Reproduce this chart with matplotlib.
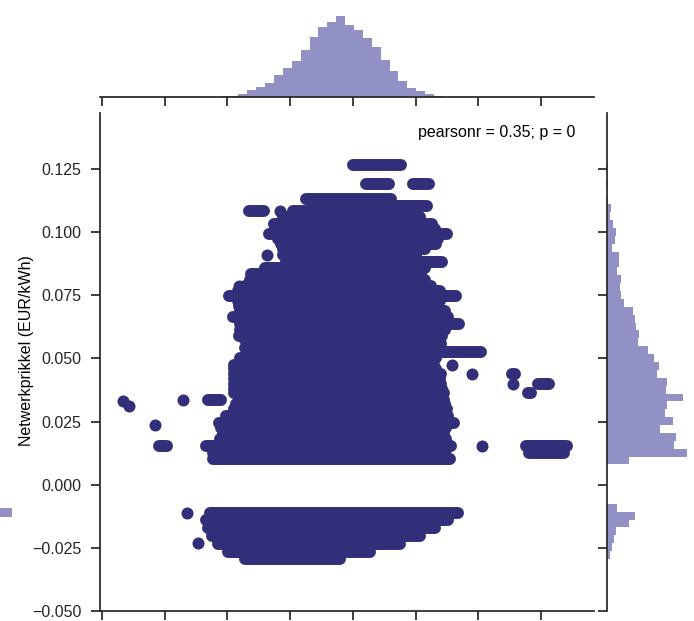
import matplotlib
matplotlib.use("Agg")
import matplotlib.pyplot as plt
import numpy as np
from matplotlib.patches import Rectangle

plt.rcParams["font.family"] = ["Liberation Sans", "DejaVu Sans"]

DOT = "#312e7a"
HIST = "#9191c6"
INK = "#262626"

# dense runs of points on one price level: y, first x, last x
row_y = [0.1266, 0.1191, 0.1191, 0.1131, 0.1104, 0.1084, 0.1084, 0.1060, 0.1032, 0.1012,
         0.0993, 0.0973, 0.0953, 0.0933, 0.0909, 0.0881, 0.0858, 0.0834, 0.0810, 0.0786,
         0.0766, 0.0746, 0.0727, 0.0707, 0.0687, 0.0663, 0.0635, 0.0611, 0.0588, 0.0572,
         0.0556, 0.0540, 0.0524, 0.0500, 0.0476, 0.0457, 0.0437, 0.0417, 0.0397, 0.0381,
         0.0365, 0.0337, 0.0318, 0.0298, 0.0274, 0.0246, 0.0226, 0.0206, 0.0183, 0.0155,
         0.0139, 0.0127, 0.0103,
         0.0437, 0.0397, 0.0365, 0.0337, 0.0155, 0.0155, 0.0127,
         -0.0111, -0.0139, -0.0171, -0.0202, -0.0234, -0.0266, -0.0294]
row_x0 = [60.0, 64.2, 79.2, 45.1, 47.9, 40.9, 26.9, 37.7, 34.9, 35.2,
          33.3, 36.1, 37.1, 37.7, 37.7, 38.7, 32.0, 27.5, 27.2, 25.6,
          23.4, 20.5, 23.4, 23.7, 24.0, 21.8, 24.0, 24.0, 23.7, 25.6,
          26.9, 25.6, 26.9, 24.0, 22.1, 22.1, 22.1, 22.1, 22.1, 22.1,
          22.1, 23.7, 22.7, 22.1, 19.6, 17.3, 18.0, 18.6, 17.6, 13.2,
          15.7, 15.4, 15.4,
          110.8, 119.1, 115.9, 13.8, -1.8, 115.3, 116.2,
          14.5, 13.2, 13.8, 15.1, 17.0, 20.2, 25.6]
row_x1 = [75.4, 71.5, 84.3, 72.2, 83.7, 80.5, 31.7, 81.4, 85.3, 86.2,
          90.1, 87.2, 86.5, 83.0, 80.2, 88.5, 83.0, 81.8, 83.0, 84.9,
          87.8, 92.9, 87.8, 86.9, 89.4, 90.4, 93.9, 89.4, 88.5, 87.8,
          88.1, 87.8, 100.9, 86.5, 85.9, 86.5, 88.1, 87.8, 88.1, 88.5,
          89.1, 89.1, 89.4, 90.1, 90.4, 92.3, 89.8, 89.1, 89.8, 91.3,
          89.8, 89.1, 91.0,
          111.8, 122.6, 116.9, 18.0, 0.7, 128.4, 127.4,
          93.6, 90.4, 86.2, 81.4, 75.0, 65.5, 55.9]

# single points
dot_x = [36.8, 32.6, 23.7, 91.6, 98.0, 111.1, -13.3, -11.4, 5.8, -3.1, 101.2, 7.1, 10.6]
dot_y = [0.1084, 0.0909, 0.0786, 0.0476, 0.0437, 0.0397, 0.0330, 0.0310, 0.0337, 0.0238,
         0.0155, -0.0111, -0.0230]

# marginal histograms, 50 bins over the data range
x_counts = [2, 2, 0, 0, 1, 2, 4, 3, 5, 6, 8, 12,
            20, 54, 134, 194, 286, 434, 580, 726, 934, 1200, 1400, 1500, 1626,
            1434, 1334, 1180, 1000, 746, 526, 326, 186, 120, 60, 20, 6,
            4, 3, 3, 2, 2, 1, 1, 2, 3, 2, 1, 1, 2]
y_counts = [66, 100, 134, 186, 446, 554, 200, 0, 0, 0, 0, 0,
            434, 1606, 1340, 1380, 1054, 1320, 1154, 1206, 1526, 1186, 1206, 1000,
            1034, 934, 820, 614, 646, 580, 566, 526, 346, 286, 260, 274, 206, 246,
            246, 100, 154, 180, 120, 66, 86,
            10, 6, 20, 6, 20]

x_ticks = [-20, 0, 20, 40, 60, 80, 100, 120]
y_ticks = [-0.05, -0.025, 0.0, 0.025, 0.05, 0.075, 0.1, 0.125]

W, H = 694, 621
fig = plt.figure(figsize=(W / 100, H / 100), dpi=100)


def px_axes(x0, y0, x1, y1):
    # box in pixels, origin top-left
    return fig.add_axes([x0 / W, 1 - y1 / H, (x1 - x0) / W, (y1 - y0) / H])


ax = px_axes(100, 113, 594, 611)
ax_top = px_axes(100, -3, 594, 97)
ax_right = px_axes(607, 113, 707, 611)

ax.hlines(row_y, row_x0, row_x1, colors=DOT, linewidth=8.6, capstyle="round")
ax.scatter(dot_x, dot_y, s=75, color=DOT, linewidths=0)
xlim = (-20.6, 136.9)
ylim = (-0.05, 0.1472)
ax.set_xlim(xlim)
ax.set_ylim(ylim)
ax.set_xticks(x_ticks)
ax.set_yticks(y_ticks)
ax.set_yticklabels([f"{v:.3f}".replace("-", "\u2212") for v in y_ticks])
ax.tick_params(labelbottom=False)
ax.set_ylabel("Netwerkprikkel (EUR/kWh)", fontsize=11.5)
ax.yaxis.set_label_coords(-0.134, 0.522)
ax.text(0.9615, 0.96, "pearsonr = 0.35; p = 0", transform=ax.transAxes,
        ha="right", va="center", fontsize=11.5)

all_x = np.concatenate([row_x0, row_x1, dot_x])
all_y = np.concatenate([row_y, dot_y])
x_edges = np.linspace(all_x.min(), all_x.max(), len(x_counts) + 1)
y_edges = np.linspace(all_y.min(), all_y.max(), len(y_counts) + 1)

ax_top.bar(x_edges[:-1], x_counts, width=np.diff(x_edges), align="edge", color=HIST, linewidth=0)
ax_top.set_xlim(xlim)
ax_top.set_ylim(0, 2000)
ax_top.set_xticks(x_ticks)
ax_top.set_yticks([])
ax_top.tick_params(labelbottom=False)

ax_right.barh(y_edges[:-1], y_counts, height=np.diff(y_edges), align="edge", color=HIST, linewidth=0)
ax_right.set_ylim(ylim)
ax_right.set_xlim(0, 2000)
ax_right.set_yticks(y_ticks)
ax_right.set_xticks([])
ax_right.tick_params(labelleft=False)

for a, hide in [(ax, ["top", "right"]), (ax_top, ["top", "right", "left"]),
                (ax_right, ["top", "right", "bottom"])]:
    for s in hide:
        a.spines[s].set_visible(False)
    for s in a.spines.values():
        s.set_linewidth(1.25)
        s.set_color(INK)
    a.set_facecolor("none")
    a.tick_params(direction="out", length=6.5, width=1.25, color=INK,
                  labelsize=11.5, labelcolor=INK, pad=7)

# stray patch at the left edge of the crop
fig.add_artist(Rectangle((0, 1 - 517 / H), 12 / W, 9 / H, transform=fig.transFigure,
                         color=HIST, linewidth=0))

fig.savefig("out.png", dpi=100)
